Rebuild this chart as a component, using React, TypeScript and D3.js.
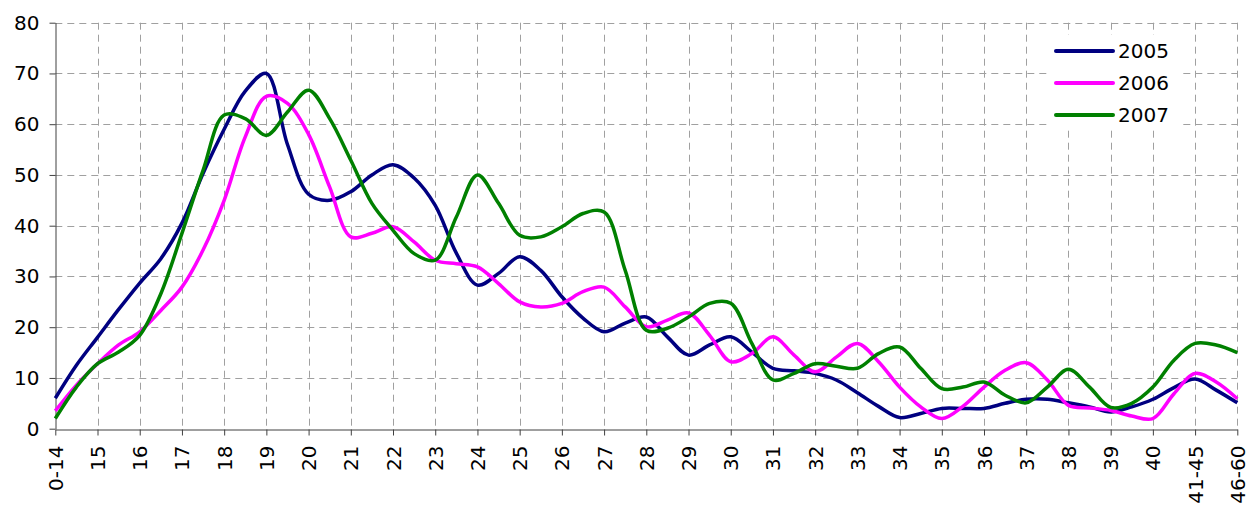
import React, { useEffect, useRef } from 'react';
import * as d3 from 'd3';

// age groups on the x axis
const categories = [
  '0-14', '15', '16', '17', '18', '19', '20', '21', '22', '23', '24', '25', '26', '27',
  '28', '29', '30', '31', '32', '33', '34', '35', '36', '37', '38', '39', '40', '41-45', '46-60',
];

// values read at every half category step (0, 0.5, 1, ... 28)
const values2005 = [
  6, 12.5, 18, 23.5, 28.7, 33.5, 40.5, 50.3, 59, 66.5, 70, 56, 46.2, 45, 46.7, 50, 52, 49.4, 44,
  34.6, 28.3, 30.6, 33.9, 31.2, 26, 21.8, 19.1, 20.8, 22, 18.1, 14.5, 16.5, 18.1, 15.1, 11.9, 11.4,
  10.9, 9.6, 7.1, 4.4, 2.2, 3.0, 4.0, 4.0, 4.0, 5.0, 5.8, 5.8, 5.1, 4.3, 3.3, 4.3, 5.8, 8.1, 9.8, 7.6, 5.1,
];
const values2006 = [
  3.5, 8.6, 12.8, 16.5, 19.1, 23.3, 27.9, 35.2, 45, 57.5, 65.5, 64.1, 58, 47.6, 37.8, 38.5, 39.8, 36.8,
  33.2, 32.5, 31.9, 28.6, 25, 24, 24.7, 27, 27.9, 24, 20.1, 21.4, 22.8, 18.4, 13.2, 14.8, 18.1, 14.5,
  11.2, 14.1, 16.8, 13.2, 8.2, 4.3, 2.0, 4.4, 8.2, 11.5, 13, 9.6, 4.6, 4.1, 3.6, 2.5, 2.0, 6.9, 10.9, 9.2, 5.9,
];
const values2007 = [
  2, 8.2, 12.8, 15.1, 18.4, 26.6, 38.5, 50.9, 61.8, 61.1, 57.8, 62.4, 66.7, 61.1, 52.9, 44.4, 39.1, 34.5,
  33.2, 41.7, 50, 44.4, 38.1, 37.8, 39.8, 42.4, 42.7, 31.2, 19.4, 19.8, 22, 24.7, 24.7, 16.8, 9.6, 10.9,
  12.8, 12.3, 11.9, 14.8, 16.1, 11.9, 7.9, 8.2, 9.2, 6.6, 5.1, 8.2, 11.7, 8.2, 4.2, 5.0, 8.2, 13.5, 16.8, 16.5, 15.0,
];

const seriesNames = ['2005', '2006', '2007'];
const seriesColors = ['#000080', '#ff00ff', '#008000'];
const yTicks = [0, 10, 20, 30, 40, 50, 60, 70, 80];

const App: React.FC = () => {
  const ref = useRef<SVGSVGElement | null>(null);

  useEffect(() => {
    document.body.style.margin = '0';
    const svg = d3.select(ref.current);
    svg.selectAll('*').remove();

    const font = 'DejaVu Sans, Verdana, sans-serif';
    const x = d3.scaleLinear().domain([0, categories.length - 1]).range([55.3, 1237.3]);
    const y = d3.scaleLinear().domain([0, 80]).range([428.7, 22.7]);

    // Grid
    const grid = svg.append('g').attr('stroke', '#a0a0a0').attr('stroke-width', 1)
      .attr('stroke-dasharray', '7,5');
    grid.selectAll('line.h')
      .data(yTicks.slice(1))
      .enter()
      .append('line')
      .attr('x1', x(0)).attr('x2', x(categories.length - 1))
      .attr('y1', d => Math.round(y(d)) + 0.5).attr('y2', d => Math.round(y(d)) + 0.5);
    grid.selectAll('line.v')
      .data(d3.range(1, categories.length))
      .enter()
      .append('line')
      .attr('x1', d => Math.round(x(d)) + 0.5).attr('x2', d => Math.round(x(d)) + 0.5)
      .attr('y1', y(80)).attr('y2', y(0));

    // Y axis
    const yAxis = svg.append('g')
      .attr('transform', `translate(${Math.round(x(0)) + 0.5},0)`)
      .call(d3.axisLeft(y).tickValues(yTicks).tickSize(6).tickPadding(10).tickSizeOuter(0));
    yAxis.select('.domain').attr('stroke', '#404040');
    yAxis.selectAll('line').attr('stroke', '#404040');
    yAxis.selectAll('text')
      .attr('font-family', font).attr('font-size', 20).attr('fill', '#000');

    // X axis
    const xAxis = svg.append('g')
      .attr('transform', `translate(0,${Math.round(y(0)) + 0.5})`)
      .call(d3.axisBottom(x)
        .tickValues(d3.range(categories.length))
        .tickFormat(i => categories[i as number])
        .tickSize(6)
        .tickSizeOuter(0));
    xAxis.select('.domain').attr('stroke', '#404040');
    xAxis.selectAll('line').attr('stroke', '#404040');
    xAxis.selectAll('text')
      .attr('font-family', font).attr('font-size', 20).attr('fill', '#000')
      .attr('text-anchor', 'end')
      .attr('transform', 'rotate(-90)')
      .attr('x', -16)
      .attr('y', 0)
      .attr('dy', '0.35em');

    // Lines
    const allSeries = [values2005, values2006, values2007];
    const line = d3.line<number>()
      .x((_, i) => x(i / 2))
      .y(d => y(d))
      .curve(d3.curveCatmullRom.alpha(0.5));
    allSeries.forEach((vals, k) => {
      svg.append('path')
        .datum(vals)
        .attr('fill', 'none')
        .attr('stroke', seriesColors[k])
        .attr('stroke-width', 3.5)
        .attr('stroke-linejoin', 'round')
        .attr('d', line);
    });

    // Legend
    const legend = svg.append('g');
    legend.append('rect')
      .attr('x', 1050).attr('y', 35).attr('width', 132).attr('height', 93)
      .attr('fill', '#fff');
    seriesNames.forEach((name, k) => {
      const ly = 51 + k * 32;
      legend.append('line')
        .attr('x1', 1056).attr('x2', 1113).attr('y1', ly).attr('y2', ly)
        .attr('stroke', seriesColors[k]).attr('stroke-width', 4).attr('stroke-linecap', 'round');
      legend.append('text')
        .attr('x', 1118).attr('y', ly).attr('dy', '0.35em')
        .attr('font-family', font).attr('font-size', 20).attr('fill', '#000')
        .text(name);
    });
  }, []);

  return <svg ref={ref} width={1249} height={511} style={{ display: 'block', background: '#fff' }} />;
};

export default App;
